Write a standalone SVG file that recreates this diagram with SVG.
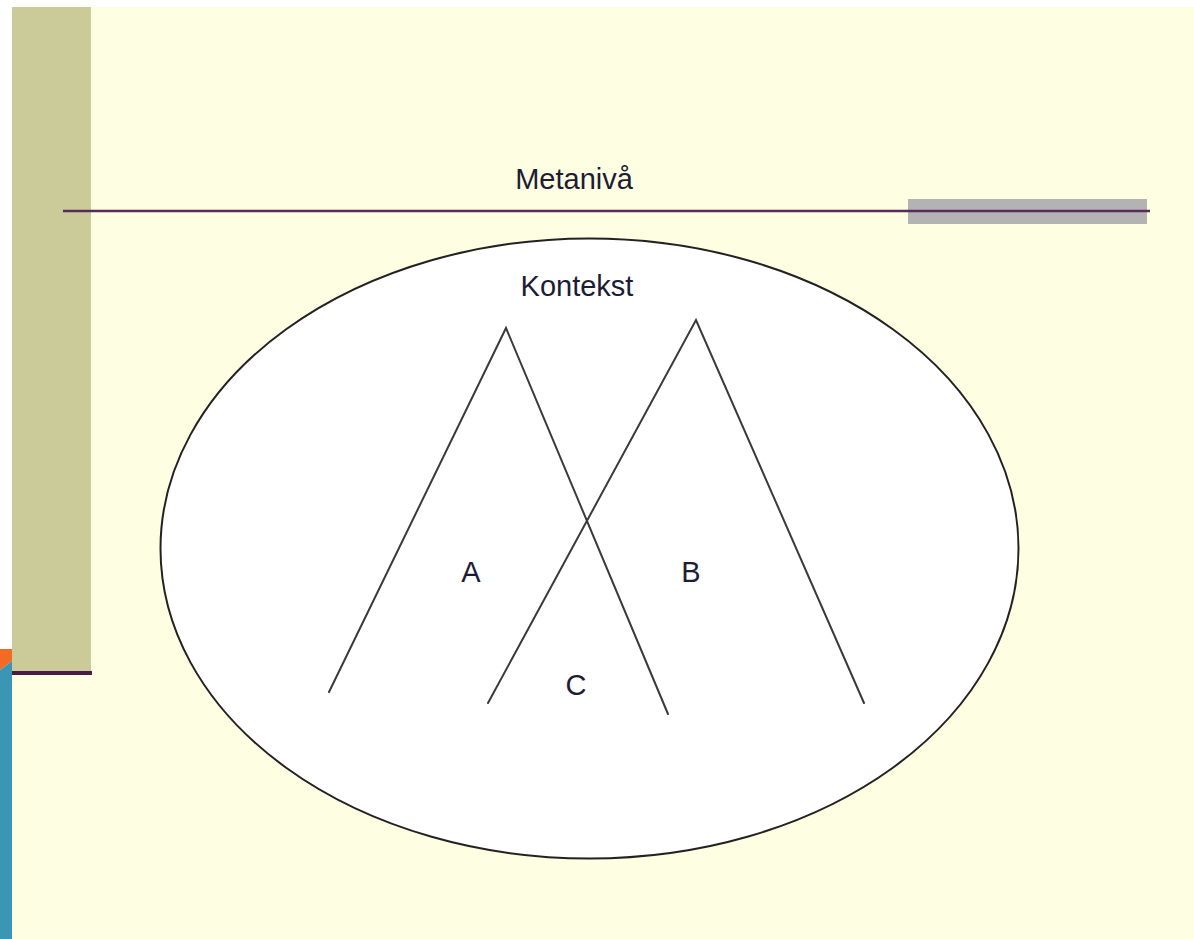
<svg xmlns="http://www.w3.org/2000/svg" width="1194" height="939" viewBox="0 0 1194 939">
<style>
.t{font-family:"Liberation Sans",Arial,sans-serif;font-size:29px;fill:#1c1c34;text-anchor:middle}
.ln{stroke:#3a3a3a;stroke-width:2;fill:none;stroke-linecap:round}
</style>
<rect x="0" y="0" width="1194" height="939" fill="#ffffff"/>
<g id="background">
<rect x="12" y="7" width="1182" height="932" fill="#fefee2"/>
<rect x="12" y="7" width="79" height="665" fill="#cbcb9a"/>
<rect x="12" y="671" width="80" height="4" fill="#4a1a48"/>
<polygon points="0,649 12,649 12,661 0,670" fill="#f46a22"/>
<polygon points="0,670 12,661 12,939 0,939" fill="#3a96b4"/>
</g>
<g id="metaniva">
<rect x="908" y="199" width="239" height="25" fill="#b3b3b3"/>
<line x1="63" y1="211" x2="1150" y2="211" stroke="#5a2a5a" stroke-width="2.5"/>
<text class="t" x="574" y="189">Metanivå</text>
</g>
<g id="kontekst">
<ellipse cx="589.5" cy="548.5" rx="429" ry="310" fill="#ffffff" stroke="#222" stroke-width="2"/>
<text class="t" x="577" y="296">Kontekst</text>
</g>
<g id="connectors">
<polyline class="ln" points="329,692 506,328 668,714"/>
<polyline class="ln" points="488,703 696,320 864,703"/>
</g>
<g id="labelA"><text class="t" x="471" y="582">A</text></g>
<g id="labelB"><text class="t" x="691" y="582">B</text></g>
<g id="labelC"><text class="t" x="576" y="695">C</text></g>
</svg>
